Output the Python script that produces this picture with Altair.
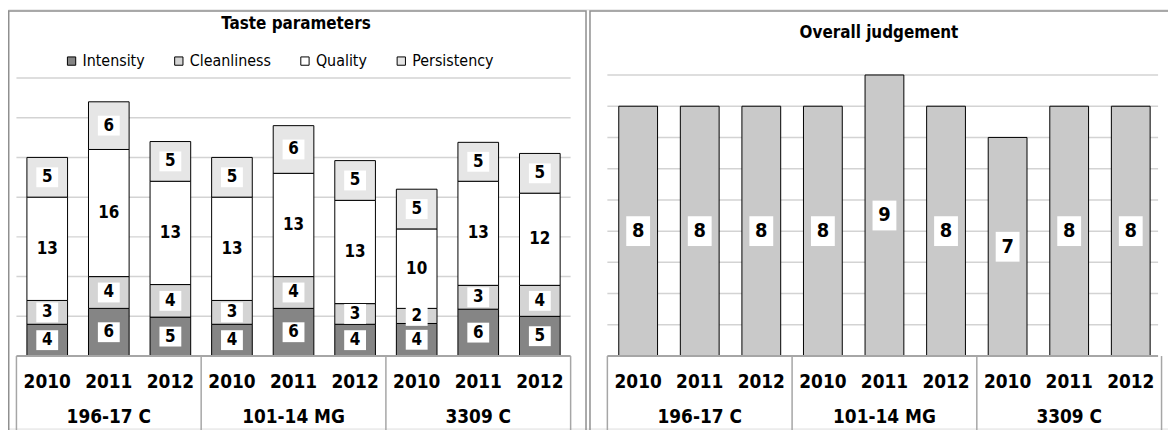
import altair as alt
import pandas as pd

# ---------------- data ----------------
groups = ["196-17 C", "101-14 MG", "3309 C"]
years = ["2010", "2011", "2012"]
parts = ["Intensity", "Cleanliness", "Quality", "Persistency"]
intensity = [4.0, 6.0, 4.9, 4.0, 6.0, 4.0, 4.1, 5.9, 5.0]
cleanliness = [3.0, 4.0, 4.1, 3.0, 4.0, 2.6, 1.9, 3.0, 3.9]
quality = [13.0, 16.0, 13.0, 13.0, 13.0, 13.0, 10.0, 13.1, 11.6]
persistency = [5.0, 6.0, 5.0, 5.0, 6.0, 5.0, 5.0, 4.9, 5.0]
overall = [8, 8, 8, 8, 9, 8, 7, 8, 8]
taste_ticks = [5, 10, 15, 20, 25, 30, 35]
overall_ticks = [1, 2, 3, 4, 5, 6, 7, 8, 9]
titles = ["Taste parameters", "Overall judgement"]

part_colors = ["#858585", "#d4d4d4", "#ffffff", "#e6e6e6"]
overall_color = "#c9c9c9"

F = "DejaVu Sans Condensed, Liberation Sans, sans-serif"

keys = [f"{g}|{y}" for g in groups for y in years]
series = [intensity, cleanliness, quality, persistency]

rows = []
for i, k in enumerate(keys):
    start = 0.0
    for j, p in enumerate(parts):
        v = series[j][i]
        rows.append(dict(key=k, part=p, order=j, value=v, start=start,
                         end=start + v, mid=start + v / 2, label=f"{round(v):d}"))
        start += v
taste_df = pd.DataFrame(rows)

overall_df = pd.DataFrame(dict(key=keys, value=overall,
                               mid=[v / 2 for v in overall],
                               label=[str(v) for v in overall]))

year_df = pd.DataFrame(dict(key=keys, year=[k.split("|")[1] for k in keys]))
group_df = pd.DataFrame(dict(key=[f"{g}|{years[1]}" for g in groups], group=groups))

# ---------------- scales ----------------
xl = alt.Scale(domain=keys, range=[8.5, 566.5], paddingInner=0.34, paddingOuter=0.17)
yl = alt.Scale(domain=[0, 35], range=[349, 69], nice=False)
xr = alt.Scale(domain=keys, range=[603.5, 1161.5], paddingInner=0.37, paddingOuter=0.185)
yr = alt.Scale(domain=[0, 9], range=[349, 66], nice=False)

GRID = "#d3d3d3"
AXIS = "#a6a6a6"
BORDER = "#8f8f8f"
BOX = "M-1.1,-1L1.1,-1L1.1,1L-1.1,1Z"
BOX_R = "M-0.8,-1L0.8,-1L0.8,1L-0.8,1Z"


def panel(xs, ys, x0, x1, ticks, bars, squares, texts):
    grid = alt.Chart(pd.DataFrame(dict(v=ticks))).mark_rule(
        color=GRID, strokeWidth=1.5).encode(
        y=alt.Y("v:Q", scale=ys, axis=None),
        x=alt.value(x0), x2=alt.value(x1))
    base = alt.Chart(pd.DataFrame(dict(v=[0]))).mark_rule(
        color=AXIS, strokeWidth=2).encode(
        y=alt.Y("v:Q", scale=ys, axis=None),
        x=alt.value(x0), x2=alt.value(x1))
    yrs = alt.Chart(year_df).mark_text(
        font=F, fontSize=19, fontWeight="bold", color="black", baseline="middle").encode(
        x=alt.X("key:N", scale=xs, axis=None),
        y=alt.value(375), text="year:N")
    grp = alt.Chart(group_df).mark_text(
        font=F, fontSize=19, fontWeight="bold", color="black", baseline="middle").encode(
        x=alt.X("key:N", scale=xs, axis=None),
        y=alt.value(410), text="group:N")
    return alt.layer(grid, bars, squares, texts, base, yrs, grp)


# left panel marks
l_bars = alt.Chart(taste_df).mark_bar(stroke="black", strokeWidth=1).encode(
    x=alt.X("key:N", scale=xl, axis=None),
    y=alt.Y("end:Q", scale=yl, axis=None),
    y2="start:Q",
    fill=alt.Fill("part:N", scale=alt.Scale(domain=parts, range=part_colors),
                  legend=alt.Legend(orient="none", legendX=56, legendY=44,
                                    direction="horizontal", title=None,
                                    symbolType="square", symbolSize=70,
                                    symbolStrokeColor="black", symbolStrokeWidth=1,
                                    labelFont=F, labelFontSize=16, labelColor="black",
                                    columnPadding=26, labelOffset=3, padding=0)),
    order=alt.Order("order:Q"))
l_sq = alt.Chart(taste_df).mark_point(
    shape=BOX, filled=True, fill="white", opacity=1, size=400, strokeWidth=0).encode(
    x=alt.X("key:N", scale=xl, axis=None),
    y=alt.Y("mid:Q", scale=yl, axis=None))
l_txt = alt.Chart(taste_df).mark_text(
    font=F, fontSize=17, fontWeight="bold", color="black", baseline="middle").encode(
    x=alt.X("key:N", scale=xl, axis=None),
    y=alt.Y("mid:Q", scale=yl, axis=None), text="label:N")

left = panel(xl, yl, 8.5, 566.5, taste_ticks, l_bars, l_sq, l_txt)

# right panel marks
r_bars = alt.Chart(overall_df).mark_bar(stroke="black", strokeWidth=1, fill=overall_color).encode(
    x=alt.X("key:N", scale=xr, axis=None),
    y=alt.Y("value:Q", scale=yr, axis=None))
r_sq = alt.Chart(overall_df).mark_point(
    shape=BOX_R, filled=True, fill="white", opacity=1, size=900, strokeWidth=0).encode(
    x=alt.X("key:N", scale=xr, axis=None),
    y=alt.Y("mid:Q", scale=yr, axis=None))
r_txt = alt.Chart(overall_df).mark_text(
    font=F, fontSize=20, fontWeight="bold", color="black", baseline="middle").encode(
    x=alt.X("key:N", scale=xr, axis=None),
    y=alt.Y("mid:Q", scale=yr, axis=None), text="label:N")

right = panel(xr, yr, 603.5, 1158, overall_ticks, r_bars, r_sq, r_txt)

# decorations: chart borders, group separators, titles
one = pd.DataFrame(dict(a=[1]))
border_l = alt.Chart(one).mark_rect(fillOpacity=0, stroke=BORDER, strokeWidth=1.5).encode(
    x=alt.value(0.75), x2=alt.value(582), y=alt.value(1.5), y2=alt.value(460))
border_r = alt.Chart(one).mark_rect(fillOpacity=0, stroke=BORDER, strokeWidth=1.5).encode(
    x=alt.value(586), x2=alt.value(1190), y=alt.value(1.5), y2=alt.value(460))

seps = []
for xv in [8.5, 194.5, 380.5, 566.5, 603.5, 789.5, 975.5, 1161.5]:
    seps.append(alt.Chart(one).mark_rule(color=AXIS, strokeWidth=1.5).encode(
        x=alt.value(xv), y=alt.value(349), y2=alt.value(440)))

t_left = alt.Chart(one).mark_text(
    font=F, fontSize=17, fontWeight="bold", color="black", baseline="alphabetic").encode(
    x=alt.value(290), y=alt.value(20), text=alt.value(titles[0]))
t_right = alt.Chart(one).mark_text(
    font=F, fontSize=17, fontWeight="bold", color="black", baseline="alphabetic").encode(
    x=alt.value(877), y=alt.value(29), text=alt.value(titles[1]))

deco = alt.layer(border_l, border_r, *seps, t_left, t_right)

chart = alt.layer(deco, left, right).resolve_scale(
    x="independent", y="independent"
).properties(
    width=1168, height=422,
    autosize=alt.AutoSizeParams(type="none"),
    padding=0,
).configure_view(stroke=None).configure(background="white")

chart.save("out.html", embed_options={"renderer": "svg", "actions": False})
